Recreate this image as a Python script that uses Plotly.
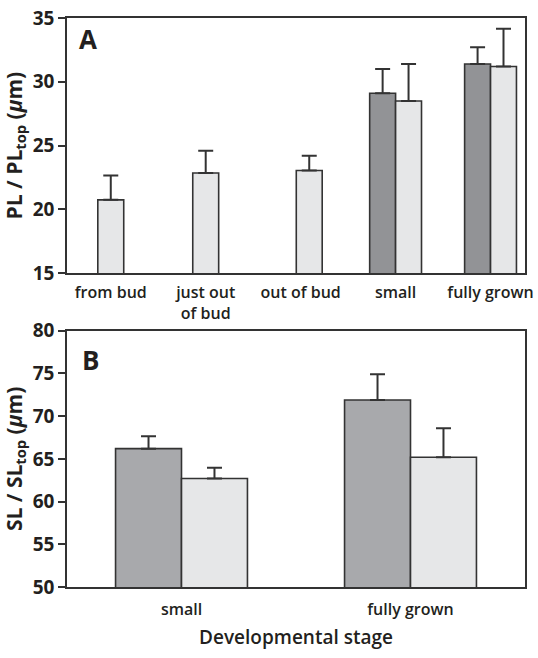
import plotly.graph_objects as go

# Panel A: petal length by developmental stage
stages_a = ["from bud", "just out<br>of bud", "out of bud", "small", "fully grown"]
pl_dark = [None, None, None, 29.1, 31.4]
pl_dark_err = [0, 0, 0, 1.9, 1.3]
pl_light = [20.75, 22.85, 23.05, 28.5, 31.2]
pl_light_err = [1.9, 1.75, 1.15, 2.9, 2.95]

# Panel B: sepal length by developmental stage
stages_b = ["small", "fully grown"]
sl_dark = [66.2, 71.9]
sl_dark_err = [1.45, 3.0]
sl_light = [62.7, 65.2]
sl_light_err = [1.25, 3.4]

DARK_A = "#929396"
DARK_B = "#a8a9ac"
LIGHT = "#e6e7e8"
INK = "#333333"
TEXT = "#231f20"
FONT = "Open Sans"

W = 0.273  # bar width in panel A (category units)


def err(values):
    return dict(type="data", array=values, arrayminus=[0] * len(values),
                symmetric=False, color=INK, thickness=2, width=7.5)


fig = go.Figure()

fig.add_trace(go.Bar(
    x=stages_a, y=pl_dark, xaxis="x", yaxis="y",
    width=W, offset=[-W] * 5,
    marker=dict(color=DARK_A, line=dict(color=INK, width=1.6)),
    error_y=err(pl_dark_err), showlegend=False,
))
fig.add_trace(go.Bar(
    x=stages_a, y=pl_light, xaxis="x", yaxis="y",
    width=W, offset=[-W / 2, -W / 2, -0.046, 0, 0],
    marker=dict(color=LIGHT, line=dict(color=INK, width=1.6)),
    error_y=err(pl_light_err), showlegend=False,
))

fig.add_trace(go.Bar(
    x=stages_b, y=sl_dark, xaxis="x2", yaxis="y2",
    marker=dict(color=DARK_B, line=dict(color=INK, width=1.6)),
    error_y=err(sl_dark_err), showlegend=False,
))
fig.add_trace(go.Bar(
    x=stages_b, y=sl_light, xaxis="x2", yaxis="y2",
    marker=dict(color=LIGHT, line=dict(color=INK, width=1.6)),
    error_y=err(sl_light_err), showlegend=False,
))

frame = dict(showline=True, mirror=True, linecolor=INK, linewidth=1.5,
             showgrid=False, zeroline=False)
xtick_font = dict(family=FONT, size=16, color=TEXT, weight=600)
ytick_font = dict(family=FONT, size=19, color=TEXT, weight=700)
ytitle_font = dict(family=FONT, size=21, color=TEXT, weight=700)

fig.update_layout(
    width=538, height=658,
    margin=dict(l=67, r=5, t=14, b=71),
    paper_bgcolor="white", plot_bgcolor="white",
    barmode="group", bargap=0.424, bargroupgap=0,
    font=dict(family=FONT, color=TEXT),
    xaxis=dict(domain=[0, 1], anchor="y", type="category",
               range=[-0.461, 4.363], ticks="", tickfont=xtick_font,
               ticklabelstandoff=4, **frame),
    yaxis=dict(domain=[0.5515, 1], anchor="x", range=[15, 35], dtick=5,
               ticks="outside", ticklen=7, tickwidth=1.5, tickcolor=INK,
               tickfont=ytick_font, ticklabelstandoff=0,
               title=dict(text="PL / PL<sub>top</sub> (<i>μ</i>m)",
                          font=ytitle_font, standoff=6),
               **frame),
    xaxis2=dict(domain=[0, 1], anchor="y2", type="category",
                range=[-0.5, 1.5], ticks="", tickfont=xtick_font,
                ticklabelstandoff=7,
                title=dict(text="Developmental stage",
                           font=dict(family=FONT, size=19, color=TEXT,
                                     weight=600), standoff=12),
                **frame),
    yaxis2=dict(domain=[0, 0.4503], anchor="x2", range=[50, 80], dtick=5,
                ticks="outside", ticklen=7, tickwidth=1.5, tickcolor=INK,
                tickfont=ytick_font, ticklabelstandoff=0,
                title=dict(text="SL / SL<sub>top</sub> (<i>μ</i>m)",
                           font=ytitle_font, standoff=6),
                **frame),
    annotations=[
        dict(text="<b>A</b>", xref="paper", yref="paper", x=0.022, y=0.998,
             xanchor="left", yanchor="top", showarrow=False,
             font=dict(family=FONT, size=26, color=TEXT)),
        dict(text="<b>B</b>", xref="paper", yref="paper", x=0.028, y=0.434,
             xanchor="left", yanchor="top", showarrow=False,
             font=dict(family=FONT, size=26, color=TEXT)),
    ],
)

fig.write_html("out.html")
